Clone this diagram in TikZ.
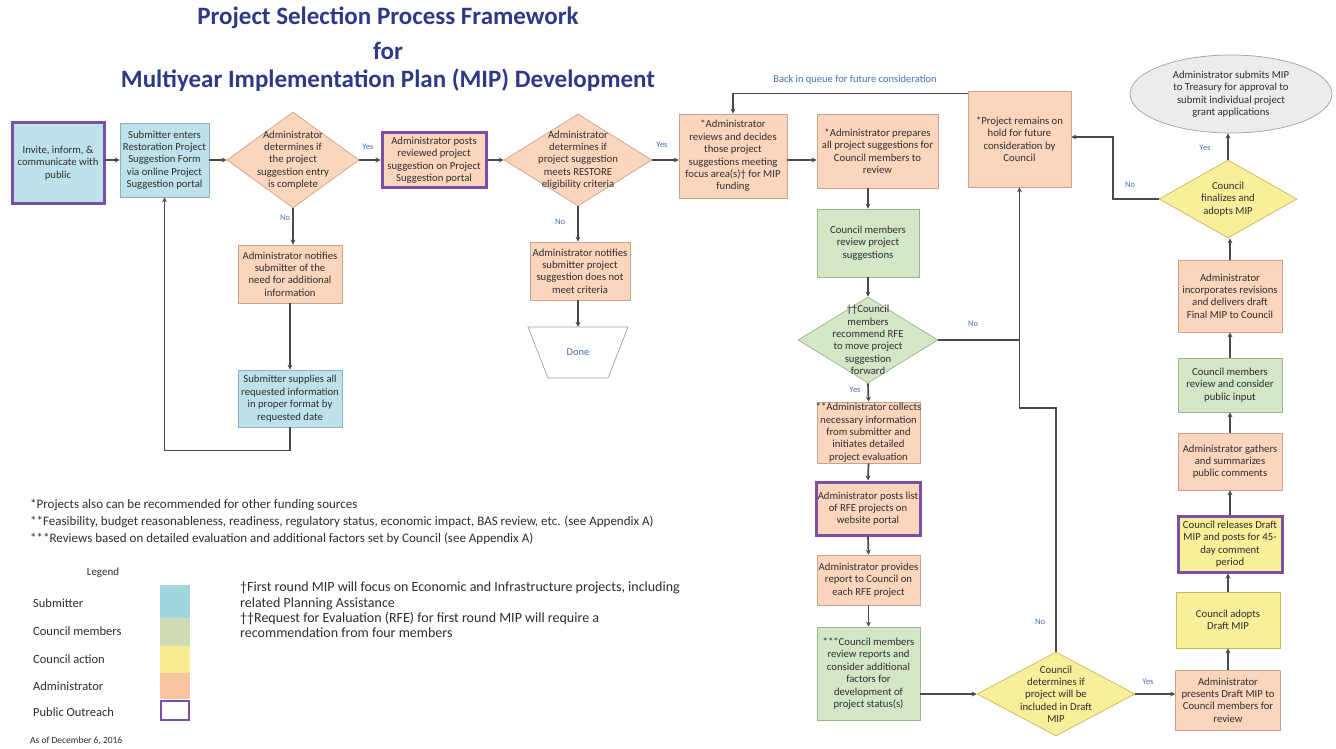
\documentclass[tikz,border=0pt]{standalone}
\usepackage{fontspec}
\setmainfont{Carlito}
\usetikzlibrary{shapes.geometric,arrows.meta}
\definecolor{subF}{HTML}{BEE2EC}
\definecolor{subD}{HTML}{8DB2BE}
\definecolor{admF}{HTML}{FCD6BC}
\definecolor{admD}{HTML}{C9A48B}
\definecolor{cmF}{HTML}{D3E6C6}
\definecolor{cmD}{HTML}{9CB58B}
\definecolor{caF}{HTML}{F9EE9A}
\definecolor{caD}{HTML}{C6B95E}
\definecolor{pur}{HTML}{7B4FA6}
\definecolor{ellF}{HTML}{ECECEC}
\definecolor{ellD}{HTML}{A0A0A0}
\definecolor{lc}{HTML}{4A4A4A}
\definecolor{txt}{HTML}{2E2E2E}
\definecolor{labc}{HTML}{4A6FB0}
\definecolor{ttl}{HTML}{2E3A87}
\definecolor{lgB}{HTML}{A3D5E0}
\definecolor{lgG}{HTML}{CFDBB3}
\definecolor{lgY}{HTML}{F9EB91}
\definecolor{lgO}{HTML}{F9C4A0}
\newcommand{\bt}[2]{\makebox[0pt]{\smash{\raisebox{-2.6pt}{\parbox[c]{#1}{\centering\fontsize{10.7}{12.4}\selectfont #2}}}}}
\tikzset{
  basebox/.style={inner sep=0pt, text=txt},
  rbox/.style={basebox, rectangle, line width=0.7pt},
  subbox/.style={rbox, fill=subF, draw=subD},
  admbox/.style={rbox, fill=admF, draw=admD},
  cmbox/.style={rbox, fill=cmF, draw=cmD},
  cabox/.style={rbox, fill=caF, draw=caD},
  pubbox/.style={line width=3pt, draw=pur},
  diabox/.style={basebox, diamond, line width=0.7pt},
  conn/.style={draw=lc, line width=1.7pt, -{Stealth[length=5pt,width=5pt]}},
  wire/.style={draw=lc, line width=1.7pt},
  lab/.style={font=\fontsize{8.5}{9}\selectfont, text=labc, inner sep=0pt},
  ttlnode/.style={font=\fontsize{25}{27}\selectfont\bfseries, text=ttl, inner sep=0pt},
  fn/.style={font=\fontsize{13}{15}\selectfont, text=txt, inner sep=0pt, anchor=west},
  lg/.style={font=\fontsize{12.5}{14}\selectfont, text=txt, inner sep=0pt, anchor=west},
  sw/.style={rectangle, inner sep=0pt, minimum width=30pt, draw=none},
}
\begin{document}
\begin{tikzpicture}[x=1pt,y=-1pt]
\path[use as bounding box, fill=white] (0,0) rectangle (1336,749);

% title
\node[ttlnode] (t1) at (388,18) {Project Selection Process Framework};
\node[ttlnode] (t2) at (388,51) {for};
\node[ttlnode] (t3) at (388,80) {Multiyear Implementation Plan (MIP) Development};

% top row
\node[subbox, pubbox, minimum width=92pt, minimum height=80pt] (n1) at (58,163) {\bt{86pt}{Invite, inform, \& communicate with public}};
\node[subbox, minimum width=89pt, minimum height=74pt] (n2) at (164.5,160) {\bt{89pt}{Submitter enters\\Restoration Project\\Suggestion Form\\via online Project\\Suggestion portal}};
\node[diabox, fill=admF, draw=admD, minimum width=132pt, minimum height=96pt] (d3) at (293,160) {\bt{80pt}{Administrator\\determines if\\the project\\suggestion entry\\is complete}};
\node[admbox, pubbox, minimum width=104pt, minimum height=54pt] (n4) at (434,160) {\bt{104pt}{Administrator posts\\reviewed project\\suggestion on Project\\Suggestion portal}};
\node[diabox, fill=admF, draw=admD, minimum width=148pt, minimum height=92pt] (d5) at (578,160) {\bt{96pt}{Administrator\\determines if\\project suggestion\\meets RESTORE\\eligibility criteria}};
\node[admbox, minimum width=108pt, minimum height=84pt] (n6) at (733,156) {\bt{108pt}{*Administrator\\reviews and decides\\those project\\suggestions meeting\\focus area(s)† for MIP\\funding}};
\node[admbox, minimum width=121pt, minimum height=74pt] (n7) at (877.5,151) {\bt{121pt}{*Administrator prepares\\all project suggestions for\\Council members to\\review}};
\node[admbox, minimum width=103pt, minimum height=96pt] (n8) at (1019.5,139) {\bt{103pt}{*Project remains on\\hold for future\\consideration by\\Council}};
\node[basebox, ellipse, fill=ellF, draw=ellD, line width=0.7pt, minimum width=202pt, minimum height=78pt] (ell) at (1231,94) {\bt{150pt}{Administrator submits MIP\\to Treasury for approval to\\submit individual project\\grant applications}};
\node[diabox, fill=caF, draw=caD, minimum width=138pt, minimum height=78pt] (dF) at (1228,199) {\bt{80pt}{Council\\finalizes and\\adopts MIP}};

% left lower
\node[admbox, minimum width=104pt, minimum height=58pt] (nA1) at (290,274) {\bt{104pt}{Administrator notifies\\submitter of the\\need for additional\\information}};
\node[subbox, minimum width=104pt, minimum height=57pt] (nS) at (290,398.5) {\bt{104pt}{Submitter supplies all\\requested information\\in proper format by\\requested date}};
\node[admbox, minimum width=100pt, minimum height=58pt] (nA2) at (580,271) {\bt{100pt}{Administrator notifies\\submitter project\\suggestion does not\\meet criteria}};
\path[fill=white, draw=ellD, line width=0.7pt] (528,327) -- (628,327) -- (608,378) -- (548,378) -- cycle;
\node[rectangle, inner sep=0pt, minimum width=100pt, minimum height=51pt, text=labc, font=\fontsize{10.5}{12}\selectfont] (done) at (578,352.5) {Done};

% middle column
\node[cmbox, minimum width=102pt, minimum height=68pt] (nC1) at (868,243) {\bt{100pt}{Council members\\review project\\suggestions}};
\node[diabox, fill=cmF, draw=cmD, minimum width=140pt, minimum height=86pt] (dG) at (868,340) {\bt{90pt}{††Council\\members\\recommend RFE\\to move project\\suggestion\\forward}};
\node[admbox, minimum width=103pt, minimum height=61pt] (nA3) at (868.5,432.5) {\bt{110pt}{**Administrator collects\\necessary information\\from submitter and\\initiates detailed\\project evaluation}};
\node[admbox, pubbox, minimum width=104pt, minimum height=53pt] (nA4) at (868,508.5) {\bt{104pt}{Administrator posts list\\of RFE projects on\\website portal}};
\node[admbox, minimum width=103pt, minimum height=50pt] (nA5) at (868.5,580) {\bt{103pt}{Administrator provides\\report to Council on\\each RFE project}};
\node[cmbox, minimum width=103pt, minimum height=93pt] (nC2) at (868.5,673.5) {\bt{103pt}{***Council members\\review reports and\\consider additional\\factors for\\development of\\project status(s)}};
\node[diabox, fill=caF, draw=caD, minimum width=158pt, minimum height=84pt] (dB) at (1056,694) {\bt{96pt}{Council\\determines if\\project will be\\included in Draft\\MIP}};

% right column
\node[admbox, minimum width=105pt, minimum height=60pt] (nR1) at (1228,700) {\bt{105pt}{Administrator\\presents Draft MIP to\\Council members for\\review}};
\node[cabox, minimum width=104pt, minimum height=56pt] (nR2) at (1228,620) {\bt{104pt}{Council adopts\\Draft MIP}};
\node[cabox, pubbox, minimum width=104pt, minimum height=56pt] (nR3) at (1230,544) {\bt{104pt}{Council releases Draft\\MIP and posts for 45-\\day comment\\period}};
\node[admbox, minimum width=104pt, minimum height=57pt] (nR4) at (1230,461.5) {\bt{104pt}{Administrator gathers\\and summarizes\\public comments}};
\node[cmbox, minimum width=104pt, minimum height=54pt] (nR5) at (1230,385) {\bt{104pt}{Council members\\review and consider\\public input}};
\node[admbox, minimum width=104pt, minimum height=72pt] (nR6) at (1230,296) {\bt{108pt}{Administrator\\incorporates revisions\\and delivers draft\\Final MIP to Council}};

% connectors
\draw[conn] (n1.east |- n2.west) -- (n2.west);
\draw[conn] (n2.east) -- (d3.west);
\draw[conn] (d3.east) -- (n4.west);
\draw[conn] (n4.east) -- (d5.west);
\draw[conn] (d5.east) -- (d5.east -| n6.west);
\draw[conn] (n6.east |- d5.east) -- (n7.west |- d5.east);
\draw[conn] ([yshift=-3pt]n8.north west) -| (n6.north);
\draw[conn] (d3.south) -- (d3.south |- nA1.north);
\draw[conn] (nA1.south) -- (nS.north);
\draw[conn] (nS.south) -- ++(0,23) -| (n2.south);
\draw[conn] (d5.south) -- (d5.south |- nA2.north);
\draw[conn] (d5.south |- nA2.south) -- (d5.south |- done.north);
\draw[conn] (nC1.north |- n7.south) -- (nC1.north);
\draw[conn] (nC1.south) -- (dG.north);
\draw[conn] (dG.south) -- (nA3.north);
\draw[wire] (dG.east) -- (dG.east -| n8.south);
\draw[conn] (dB.north) -- ++(0,-244) -| (n8.south);
\draw[conn] (nA3.south) -- (nA4.north);
\draw[conn] (nA4.south) -- (nA5.north);
\draw[conn] (nA5.south) -- (nC2.north);
\draw[conn] (nC2.east |- dB.west) -- (dB.west);
\draw[conn] (dB.east) -- (dB.east -| nR1.west);
\draw[conn] (nR1.north) -- (nR1.north |- nR2.south);
\draw[conn] (nR2.north) -- (nR2.north |- nR3.south);
\draw[conn] (nR3.north) -- (nR3.north |- nR4.south);
\draw[conn] (nR4.north) -- (nR5.south);
\draw[conn] (nR5.north) -- (nR6.south);
\draw[conn] (nR6.north) -- (nR6.north |- dF.south);
\draw[conn] (dF.north) -- (dF.north |- ell.south);
\draw[conn] (dF.west) -- ++(-46,0) |- ([yshift=2pt]n8.east);

% connector labels
\node[lab] (y1) at (368,147) {Yes};
\node[lab] (no1) at (285,218) {No};
\node[lab] (y2) at (662,145) {Yes};
\node[lab] (no2) at (560,222) {No};
\node[lab] (y3) at (1205,148) {Yes};
\node[lab] (no3) at (1130,185) {No};
\node[lab] (no4) at (973,324) {No};
\node[lab] (y4) at (855,390) {Yes};
\node[lab] (no5) at (1040,622) {No};
\node[lab] (y5) at (1148,682) {Yes};
\node[lab, font=\fontsize{10.5}{12}\selectfont] (bq) at (855,80) {Back in queue for future consideration};

% footnotes
\node[fn] (f1) at (30,505) {*Projects also can be recommended for other funding sources};
\node[fn] (f2) at (30,522) {**Feasibility, budget reasonableness, readiness, regulatory status, economic impact, BAS review, etc. (see Appendix A)};
\node[fn] (f3) at (30,539) {***Reviews based on detailed evaluation and additional factors set by Council (see Appendix A)};
\node[font=\fontsize{14}{15.3}\selectfont, text=txt, inner sep=0pt, anchor=north west, align=left] (f4) at (240,582) {†First round MIP will focus on Economic and Infrastructure projects, including\\related Planning Assistance\\††Request for Evaluation (RFE) for first round MIP will require a\\recommendation from four members};

% legend
\node[lg, anchor=center, font=\fontsize{11}{12}\selectfont] (lgt) at (103,573) {Legend};
\node[lg] (l1) at (33,603) {Submitter};
\node[lg] (l2) at (33,631) {Council members};
\node[lg] (l3) at (33,659) {Council action};
\node[lg] (l4) at (33,686) {Administrator};
\node[lg] (l5) at (33,712) {Public Outreach};
\node[sw, fill=lgB, minimum height=33pt] (s1) at (175,601.5) {};
\node[sw, fill=lgG, minimum height=28pt] (s2) at (175,632) {};
\node[sw, fill=lgY, minimum height=27pt] (s3) at (175,659.5) {};
\node[sw, fill=lgO, minimum height=26pt] (s4) at (175,686) {};
\node[sw, fill=white, draw=pur, line width=2pt, minimum width=28pt, minimum height=19pt] (s5) at (175,710) {};
\node[lg, font=\fontsize{9.5}{10}\selectfont] (asof) at (30,741) {As of December 6, 2016};
\end{tikzpicture}
\end{document}
